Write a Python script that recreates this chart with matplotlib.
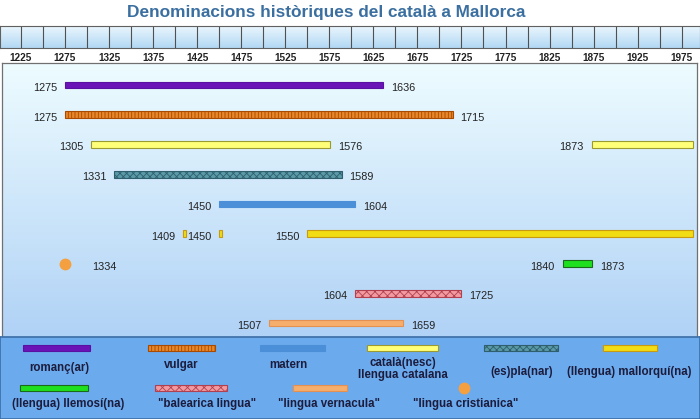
import numpy as np
import matplotlib.pyplot as plt
from matplotlib.patches import Rectangle
from matplotlib.colors import LinearSegmentedColormap

plt.rcParams['font.family'] = ['Liberation Sans', 'DejaVu Sans']
plt.rcParams['hatch.linewidth'] = 0.6

title = 'Denominacions històriques del català a Mallorca'
tick_years = list(range(1225, 2000, 50))
ruler_years = list(range(1200, 2001, 25))

# segments (start, end) per row; end None = fins avui
romanc = [(1275, 1636)]
vulgar = [(1275, 1715)]
catala = [(1305, 1576), (1873, None)]
espla = [(1331, 1589)]
matern = [(1450, 1604)]
mallorqui = [(1409, 1409), (1450, 1450), (1550, None)]
llemosi = [(1840, 1873)]
balearica = [(1604, 1725)]
vernacula = [(1507, 1659)]
cristianica = 1334
present = 1988

rows = [romanc, vulgar, catala, espla, matern, mallorqui, llemosi, balearica, vernacula]
row_pos = [0, 1, 2, 3, 4, 5, 6, 7, 8]
cristianica_row = 6

legend_labels = ['romanç(ar)', 'vulgar', 'català(nesc)\nllengua catalana', '(es)pla(nar)',
                 'matern', '(llengua) mallorquí(na)', '(llengua) llemosí(na)',
                 '"balearica lingua"', '"lingua vernacula"']

# face, edge, hatch
styles = [('#6a14b8', '#5a10a0', None),
          ('#e8862a', '#a84a00', '|||||'),
          ('#ffff78', '#9a9a30', None),
          ('#5a9aa8', '#2f5f6c', 'xxxxx'),
          ('#4a8fd8', '#4a8fd8', None),
          ('#f2dc14', '#c89a10', None),
          ('#1fe01f', '#1a6a1a', None),
          ('#f29aa0', '#b04050', 'xxxx'),
          ('#f6ae6c', '#e49050', None)]
dot_color = '#f5a040'

# layout: pixel position of year 1275 and pixels per year
W, H = 700, 419
org_year, org_px, ppy = 1275, 65, 0.881


def year_at(px):
    return org_year + (px - org_px) / ppy


def vgrad(ax, top, bottom):
    cm = LinearSegmentedColormap.from_list('g', [top, bottom])
    ax.imshow(np.linspace(0, 1, 256).reshape(-1, 1), extent=[0, 1, 0, 1],
              transform=ax.transAxes, aspect='auto', cmap=cm, zorder=0)


fig = plt.figure(figsize=(W / 100, H / 100), dpi=100)
fig.text(326 / W, 1 - 12 / H, title, ha='center', va='center', fontsize=12.4,
         fontweight='bold', color='#3b6fa0')

# ruler
rax = fig.add_axes([0, 1 - 48 / H, 1, 22 / H])
vgrad(rax, '#eaf6fd', '#b2d8f4')
for y in ruler_years:
    rax.axvline(y, color='#505050', lw=0.8, zorder=2)
rax.set_xlim(year_at(0), year_at(W))
rax.set_ylim(0, 1)
rax.set_yticks([])
rax.set_xticks(tick_years)
rax.set_xticklabels([str(y) for y in tick_years], fontsize=7.2, fontweight='bold', color='#222222')
rax.tick_params(axis='x', length=0, pad=3.5)
for s in rax.spines.values():
    s.set_color('#606060')
    s.set_linewidth(0.8)

# main panel
ax = fig.add_axes([2 / W, 1 - 337 / H, 695 / W, 274 / H])
vgrad(ax, '#eefcff', '#b0d2f6')
bar_h = 0.23
for r, segs, (fc, ec, ht) in zip(row_pos, rows, styles):
    for start, end in segs:
        stop = present if end is None else end
        width = max(stop - start, 3)
        ax.barh(r, width, left=start, height=bar_h, color=fc, edgecolor=ec,
                hatch=ht, lw=0.8, zorder=3)
        ax.annotate(str(start), (start, r), xytext=(-8, -3), textcoords='offset pixels',
                    ha='right', va='center', fontsize=7.8, color='#222222')
        if end is not None and end != start:
            ax.annotate(str(end), (start + width, r), xytext=(8, -3),
                        textcoords='offset pixels', ha='left', va='center',
                        fontsize=7.8, color='#222222')
first_year = min(s[0][0] for s in rows)
ax.plot(first_year, cristianica_row, 'o', ms=7.5, color=dot_color, zorder=3)
ax.annotate(str(cristianica), (first_year, cristianica_row), xytext=(27, -3),
            textcoords='offset pixels', ha='left', va='center', fontsize=7.8, color='#222222')
ax.set_xlim(year_at(2), year_at(697))
ax.set_ylim(8 + 14 / 29.75, -22 / 29.75)
ax.set_xticks([])
ax.set_yticks([])
for s in ax.spines.values():
    s.set_color('#707070')
    s.set_linewidth(0.9)

# legend box (pixel coords inside the box)
lax = fig.add_axes([0, 0, 1, 82 / H])
lax.set_facecolor('#6caaee')
lax.set_xlim(0, W)
lax.set_ylim(82, 0)
lax.set_xticks([])
lax.set_yticks([])
for s in lax.spines.values():
    s.set_color('#3c6ea8')
    s.set_linewidth(1.2)

# swatch x0, x1, swatch y, text x, text y
leg_pos = [(23, 90, 10.7, 59, 31),
           (148, 215, 10.7, 181, 28),
           (367, 438, 10.7, 403, 32),
           (484, 558, 10.7, 522, 34.5),
           (260, 325, 10.7, 288, 28),
           (603, 657, 10.7, 629, 34.5),
           (20, 88, 51, 68, 66.5),
           (155, 227, 51, 207, 66.5),
           (293, 347, 51, 329, 66.5)]
for lab, (x0, x1, sy, tx, ty), (fc, ec, ht) in zip(legend_labels, leg_pos, styles):
    lax.add_patch(Rectangle((x0, sy - 3), x1 - x0, 6, facecolor=fc, edgecolor=ec,
                            hatch=ht, lw=0.8))
    lax.text(tx, ty, lab, ha='center', va='center', fontsize=8.3, fontweight='bold',
             color='#1c1c3c', linespacing=1.0)
lax.plot(464, 51, 'o', ms=7.5, color=dot_color)
lax.text(466, 66.5, '"lingua cristianica"', ha='center', va='center', fontsize=8.3,
         fontweight='bold', color='#1c1c3c')

fig.savefig('out.png', dpi=100)
